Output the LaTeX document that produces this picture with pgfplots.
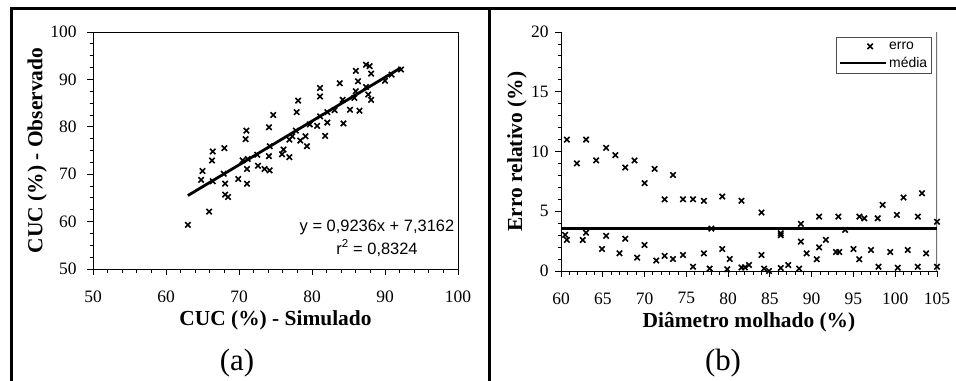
\documentclass[border=0pt]{standalone}
\usepackage{fontspec}
\setmainfont{Liberation Serif}
\newfontfamily\arial{Liberation Sans}
\usepackage{pgfplots}
\pgfplotsset{compat=1.18}
\pgfplotsset{
  common/.style={
    scale only axis,
    tick align=outside, tick pos=left,
    major tick length=6bp, minor tick length=3.5bp,
    every tick/.style={black, line width=0.9bp},
    axis line style={line width=0.9bp},
    /pgf/number format/assume math mode=true,
    ticklabel style={font=\fontsize{17.5}{17.5}\selectfont},
    xticklabel style={yshift=-12bp},
    label style={font=\bfseries\fontsize{21.5}{21.5}\selectfont},
    xlabel style={anchor=center},
    ylabel style={anchor=center},
  },
  markleg/.style={legend image code/.code={\draw[##1] plot coordinates {(30bp,0)};}},
  lineleg/.style={legend image code/.code={\draw[##1] (0bp,0) -- (46bp,0);}},
}
\begin{document}
\begin{tikzpicture}
\path[use as bounding box] (0,0) rectangle (956bp,-381bp);
\draw[line width=3bp] (11bp,-382bp) -- (11bp,-8bp) -- (957bp,-8bp);
\draw[line width=3bp] (489bp,-8bp) -- (489bp,-382bp);

\begin{axis}[common,
  width=365bp, height=237bp, at={(93bp,-269bp)}, anchor=south west,
  xmin=50, xmax=100, ymin=50, ymax=100,
  xtick={50,60,...,100}, ytick={50,60,...,100},
  minor x tick num=4, minor y tick num=3,
  yticklabel style={xshift=-7bp},
  xlabel={CUC (\%) - Simulado}, ylabel={CUC (\%) - Observado},
  xlabel style={at={(axis description cs:0.5,-0.215)}},
  ylabel style={at={(axis description cs:-0.153,0.5)}},
]
\addplot[only marks, mark=x, mark size=3.8bp, mark options={line width=1.6bp}] coordinates {
(63.0,59.3) (65.9,62.1) (65.0,70.7) (64.8,68.8) (66.3,72.9) (66.4,74.8) (66.4,68.5)
(68.0,75.5) (67.9,70.1) (68.1,68.0) (68.5,65.2) (68.1,65.7) (69.9,69.0) (70.5,72.9)
(70.9,77.4) (71.0,79.2) (71.1,71.1) (71.1,68.0) (71.2,73.2) (72.5,74.1) (72.6,71.8)
(73.5,71.1) (74.2,70.8) (74.1,79.9) (74.1,73.8) (74.2,75.9) (74.7,82.5) (75.9,74.2)
(76.1,75.2) (76.9,73.6) (76.9,77.3) (77.3,78.0) (77.9,83.1) (78.1,85.5) (77.8,79.2)
(78.4,77.1) (79.1,78.0) (79.3,75.9) (79.7,80.5) (80.7,80.2) (81.1,88.2) (81.1,86.4)
(81.1,82.2) (81.8,78.1) (82.1,80.9) (82.1,83.1) (83.1,83.5) (83.8,89.2) (84.3,80.7)
(84.2,85.7) (85.2,83.6) (86.0,91.8) (86.0,87.5) (85.8,86.1) (86.3,89.6) (86.5,83.4)
(87.4,93.1) (87.9,92.8) (87.4,88.4) (87.7,86.8) (88.1,91.2) (88.1,85.7) (90.0,89.7)
(90.9,91.0) (92.2,92.1)
};
\addplot[black, line width=2.8bp] coordinates {(63,65.50) (92.2,92.47)};
\node[font=\arial\fontsize{16.5}{16.5}\selectfont] at (axis cs:88.9,58.86) {y = 0,9236x + 7,3162};
\node[font=\arial\fontsize{16.5}{16.5}\selectfont] at (axis cs:88.9,54.43) {r\textsuperscript{2} = 0,8324};
\end{axis}

\begin{axis}[common,
  width=376bp, height=239bp, at={(561bp,-271bp)}, anchor=south west,
  xmin=60, xmax=105, ymin=0, ymax=20,
  axis x line*=bottom, axis y line*=left,
  xtick={60,65,...,105}, ytick={0,5,...,20},
  minor x tick num=4, minor y tick num=4,
  yticklabel style={xshift=-3bp},
  xlabel={Diâmetro molhado (\%)}, ylabel={Erro relativo (\%)},
  xlabel style={at={(axis description cs:0.5,-0.213)}},
  ylabel style={at={(axis description cs:-0.117,0.5)}},
  legend style={at={(0.9867,0.979)}, anchor=north east, draw=black!70, line width=0.7bp,
    font=\arial\fontsize{14}{14}\selectfont, inner sep=2.5bp, row sep=2bp,
    cells={anchor=west}},
]
\draw[black!55, line width=1.2bp] (rel axis cs:1,0) -- (rel axis cs:1,1);
\addplot[only marks, mark=x, mark size=3.8bp, mark options={line width=1.6bp}, markleg] coordinates {
(60.7,11.0) (61.9,9.0) (63.0,11.0) (64.2,9.25) (65.4,10.3) (66.5,9.7) (67.7,8.66)
(68.8,9.25) (70.0,7.35) (71.2,8.55) (73.4,8.04) (72.4,6.0) (74.6,6.0) (75.8,6.0)
(77.1,5.87) (79.3,6.23) (81.6,5.87) (84.0,4.89) (78.0,3.55)
(60.5,3.02) (60.7,2.6) (62.6,2.6) (63.0,3.2) (64.9,1.84) (65.4,2.93) (67.0,1.48)
(67.7,2.7) (69.1,1.12) (70.0,2.18) (71.4,0.87) (72.4,1.26) (73.4,1.0) (74.6,1.34)
(75.8,0.36) (77.1,1.48) (77.8,0.2) (79.3,1.84) (80.2,1.0) (79.9,0.14) (81.6,0.3)
(82.0,0.3) (82.5,0.5) (84.0,1.34) (84.3,0.2) (84.9,0.0) (86.3,3.16) (86.3,3.0)
(86.3,0.25) (87.2,0.5) (88.5,0.2) (88.7,3.94) (88.7,2.46) (89.4,1.48) (90.6,0.98)
(90.9,4.55) (90.9,1.98) (91.7,2.6) (92.9,1.59) (93.3,1.59) (93.2,4.55) (94.0,3.44)
(95.0,1.84) (95.7,0.98) (95.7,4.55) (96.3,4.41) (97.1,1.76) (97.9,4.41) (98.0,0.36)
(98.5,5.53) (99.4,1.59) (100.2,4.69) (100.3,0.28) (101.0,6.15) (101.5,1.76)
(102.7,4.55) (102.7,0.36) (103.2,6.5) (103.7,1.48) (105.0,4.13) (105.0,0.36)
};
\addlegendentry{erro}
\addplot[black, line width=2.2bp, lineleg] coordinates {(60,3.55) (105,3.55)};
\addlegendentry{média}
\end{axis}

\node[font=\fontsize{31}{31}\selectfont] at (237bp,-363bp) {(a)};
\node[font=\fontsize{31}{31}\selectfont] at (723bp,-363bp) {(b)};
\end{tikzpicture}
\end{document}
